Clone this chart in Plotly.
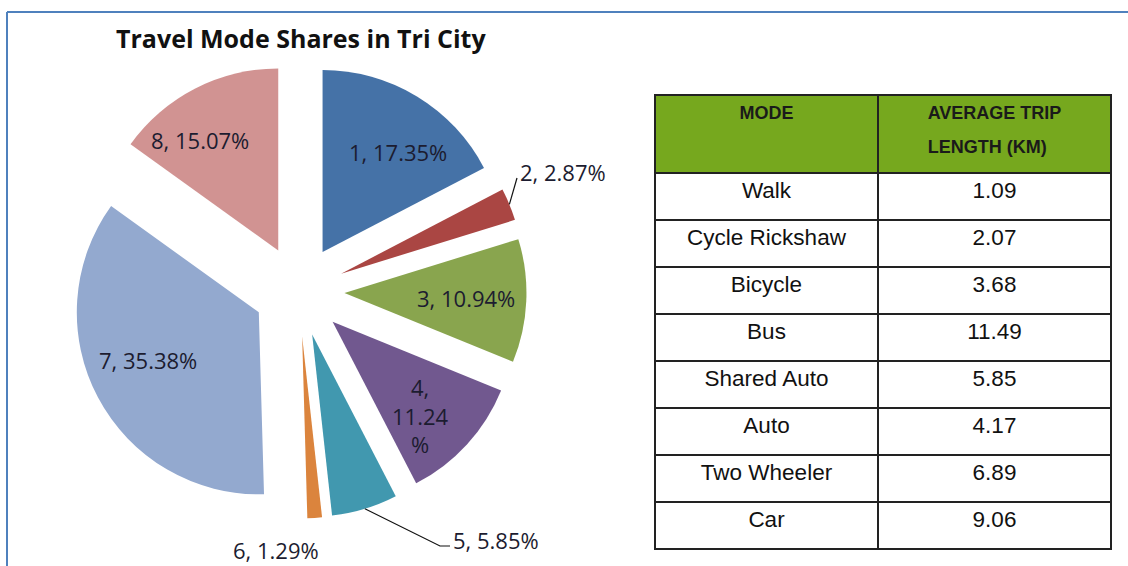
import math
import plotly.graph_objects as go

# ---------------- data ----------------
slice_ids = ["1", "2", "3", "4", "5", "6", "7", "8"]
shares = [17.35, 2.87, 10.94, 11.24, 5.85, 1.29, 35.38, 15.07]
slice_colors = ["#4572A7", "#AA4643", "#89A54E", "#71588F",
                "#4198AF", "#DB843D", "#93A9CF", "#D19392"]

modes = ["Walk", "Cycle Rickshaw", "Bicycle", "Bus",
         "Shared Auto", "Auto", "Two Wheeler", "Car"]
trip_lengths = ["1.09", "2.07", "3.68", "11.49", "5.85", "4.17", "6.89", "9.06"]
table_header = ["MODE<br>", "AVERAGE TRIP<br>LENGTH (KM)"]

W, H = 1128, 566


def px(x):
    return x / W


def py(y):
    return 1 - y / H


# pie geometry (pixels)
cx, cy = 299, 291
R_total = 227.5
PULL = 0.25
R = R_total / (1 + PULL)

labels_text = [f"{i}, {v:.2f}%" for i, v in zip(slice_ids, shares)]
labels_text[3] = "4,<br>11.24<br>%"

# label anchor positions (pixels) — text placement only
label_pos = {0: (398, 152), 2: (466, 298), 3: (420, 415), 6: (148, 360), 7: (200, 140)}

fig = go.Figure()
fig.add_trace(go.Pie(
    labels=slice_ids,
    values=shares,
    textinfo="none",
    sort=False,
    direction="clockwise",
    rotation=0,
    pull=[PULL] * len(shares),
    marker=dict(colors=slice_colors, line=dict(width=0)),
    domain=dict(x=[px(cx - R_total), px(cx + R_total)],
                y=[py(cy + R_total), py(cy - R_total)]),
    showlegend=False,
    hoverinfo="label+percent",
))

span = '<span style="font-size:18px"><b>{}</b></span>'
header_vals = ["<br>".join(span.format(p) if p else "" for p in h.split("<br>"))
               for h in table_header]

fig.add_trace(go.Table(
    domain=dict(x=[px(655), px(1111)], y=[py(550), py(95)]),
    columnwidth=[223, 233],
    header=dict(
        values=header_vals,
        fill_color="#76A81E",
        line=dict(color="#222222", width=1.6),
        font=dict(family="Liberation Sans", size=26, color="#1A1A1A"),
        align="center",
        height=78,
    ),
    cells=dict(
        values=[modes, trip_lengths],
        fill_color="white",
        line=dict(color="#222222", width=1.6),
        font=dict(family="Liberation Sans", size=22.5, color="#111111"),
        align="center",
        height=47,
    ),
))

# slice mid angles (from data)
cum = 0
mid_angles = []
for v in shares:
    mid_angles.append((cum + v / 2) / 100 * 2 * math.pi)
    cum += v


def slice_edge(k):
    a = mid_angles[k]
    d = R * PULL + R
    return cx + d * math.sin(a), cy - d * math.cos(a)


label_font = dict(family="Open Sans", size=22, color="#1C1C30")

# inside labels
for k, (lx, ly) in label_pos.items():
    fig.add_annotation(x=px(lx), y=py(ly), xref="paper", yref="paper",
                       text=labels_text[k], showarrow=False, xanchor="center",
                       yanchor="middle", font=label_font)

# slice 2 outside label
ex, ey = slice_edge(1)
fig.add_shape(type="line", x0=px(ex), y0=py(ey), x1=px(517), y1=py(178),
              xref="paper", yref="paper", line=dict(color="#111111", width=1.2))
fig.add_annotation(x=px(518), y=py(172), xref="paper", yref="paper",
                   text=labels_text[1], showarrow=False, xanchor="left",
                   yanchor="middle", font=label_font)
# slice 5 outside label
ex, ey = slice_edge(4)
fig.add_shape(type="path",
              path=f"M {px(ex)} {py(ey)} L {px(440)} {py(546)} L {px(450)} {py(546)}",
              xref="paper", yref="paper", line=dict(color="#111111", width=1.2))
fig.add_annotation(x=px(451), y=py(540), xref="paper", yref="paper",
                   text=labels_text[4], showarrow=False, xanchor="left",
                   yanchor="middle", font=label_font)
# slice 6 outside label
fig.add_annotation(x=px(276), y=py(550), xref="paper", yref="paper",
                   text=labels_text[5], showarrow=False, xanchor="center",
                   yanchor="middle", font=label_font)

# frame
fig.add_shape(type="line", x0=px(7), y0=py(12), x1=1, y1=py(12), xref="paper",
              yref="paper", line=dict(color="#4F81BD", width=2))
fig.add_shape(type="line", x0=px(7), y0=py(12), x1=px(7), y1=0, xref="paper",
              yref="paper", line=dict(color="#4F81BD", width=2))

fig.add_annotation(x=px(301), y=py(38), xref="paper", yref="paper",
                   text="<b>Travel Mode Shares in Tri City</b>", showarrow=False,
                   xanchor="center", yanchor="middle",
                   font=dict(family="Open Sans", size=25, color="#111111"))

fig.update_layout(
    width=W, height=H,
    margin=dict(l=0, r=0, t=0, b=0),
    paper_bgcolor="white",
    plot_bgcolor="white",
)

fig.write_html("out.html", config={"displayModeBar": False},
               post_script="document.body.style.margin='0px';")
